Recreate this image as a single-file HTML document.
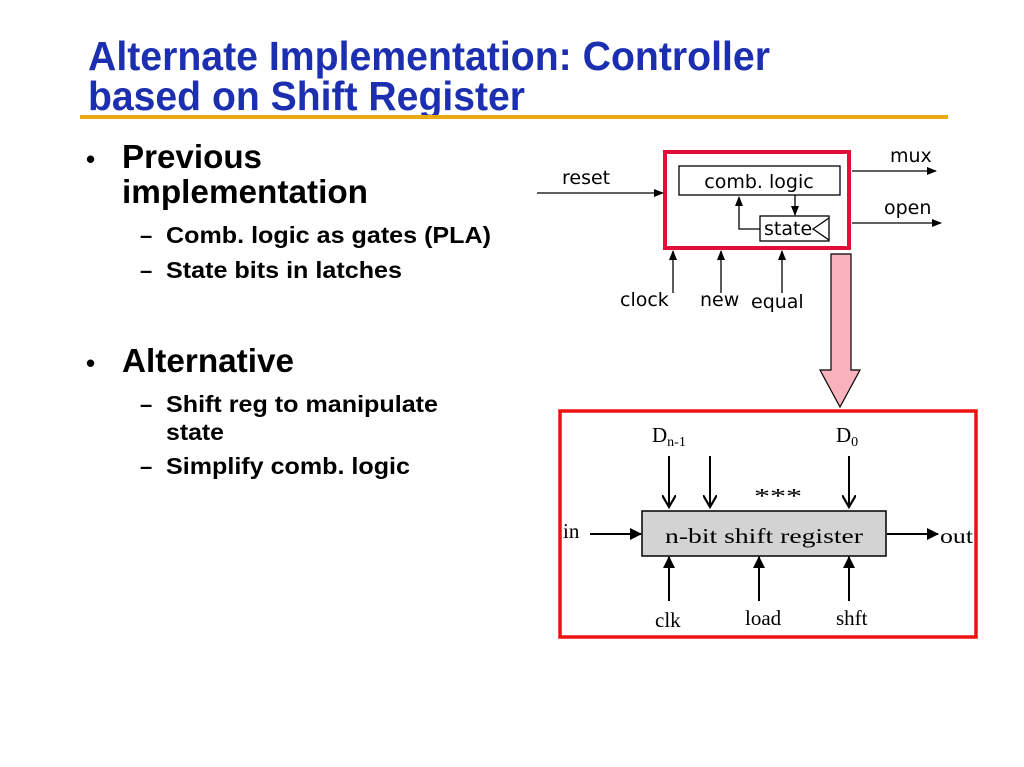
<!DOCTYPE html>
<html><head><meta charset="utf-8"><style>
html,body{margin:0;padding:0;background:#fff;width:1024px;height:767px;overflow:hidden}
svg{display:block}
.t{font-family:"Liberation Sans",sans-serif;font-weight:bold;fill:#1b2fb0;font-size:41px}
.b{font-family:"Liberation Sans",sans-serif;font-weight:bold;fill:#000}
.c{font-family:"DejaVu Sans",sans-serif;font-size:19px;fill:#000}
.s{font-family:"Liberation Serif",serif;fill:#000;font-size:21px}
</style></head><body>
<svg width="1024" height="767" viewBox="0 0 1024 767">
<defs>
<marker id="a" markerWidth="10" markerHeight="8" refX="9" refY="4" orient="auto" markerUnits="userSpaceOnUse"><path d="M0,0 L10,4 L0,8 z" fill="#000"/></marker>
<marker id="o" markerWidth="14" markerHeight="14" refX="12" refY="7" orient="auto" markerUnits="userSpaceOnUse"><path d="M0,0 L12,7 L0,14" fill="none" stroke="#000" stroke-width="2.2"/></marker>
<marker id="f" markerWidth="12" markerHeight="12" refX="11" refY="6" orient="auto" markerUnits="userSpaceOnUse"><path d="M0,0 L12,6 L0,12 z" fill="#000"/></marker>
</defs>
<text class="t" x="88" y="70" textLength="682" lengthAdjust="spacingAndGlyphs">Alternate Implementation: Controller</text>
<text class="t" x="88" y="110" textLength="437" lengthAdjust="spacingAndGlyphs">based on Shift Register</text>
<rect x="80" y="115" width="868" height="4" fill="#e8aa10"/>

<g class="b">
<text x="86" y="168" font-size="26">•</text>
<text x="122" y="168" font-size="33" textLength="140" lengthAdjust="spacingAndGlyphs">Previous</text>
<text x="122" y="203" font-size="33" textLength="246" lengthAdjust="spacingAndGlyphs">implementation</text>
<text x="140" y="243" font-size="22">–</text>
<text x="166" y="243" font-size="23" textLength="325" lengthAdjust="spacingAndGlyphs">Comb. logic as gates (PLA)</text>
<text x="140" y="278" font-size="22">–</text>
<text x="166" y="278" font-size="23" textLength="236" lengthAdjust="spacingAndGlyphs">State bits in latches</text>
<text x="86" y="372" font-size="26">•</text>
<text x="122" y="372" font-size="33" textLength="172" lengthAdjust="spacingAndGlyphs">Alternative</text>
<text x="140" y="412" font-size="22">–</text>
<text x="166" y="412" font-size="23" textLength="272" lengthAdjust="spacingAndGlyphs">Shift reg to manipulate</text>
<text x="166" y="440" font-size="23" textLength="58" lengthAdjust="spacingAndGlyphs">state</text>
<text x="140" y="474" font-size="22">–</text>
<text x="166" y="474" font-size="23" textLength="244" lengthAdjust="spacingAndGlyphs">Simplify comb. logic</text>
</g>

<!-- top diagram -->
<rect x="665" y="152" width="184" height="96" fill="none" stroke="#e0103a" stroke-width="4"/>
<rect x="679" y="166" width="161" height="29" fill="none" stroke="#000" stroke-width="1.3"/>
<text class="c" x="759" y="188" text-anchor="middle">comb. logic</text>
<rect x="760" y="216" width="69" height="25" fill="none" stroke="#000" stroke-width="1.3"/>
<text class="c" x="764" y="235">state</text>
<path d="M829,218 L813,229 L829,240" fill="none" stroke="#000" stroke-width="1.3"/>
<line x1="795" y1="195" x2="795" y2="215" stroke="#000" stroke-width="1.3" marker-end="url(#a)"/>
<path d="M760,229 H739 V197" fill="none" stroke="#000" stroke-width="1.3" marker-end="url(#a)"/>
<line x1="537" y1="193" x2="663" y2="193" stroke="#000" stroke-width="1.3" marker-end="url(#a)"/>
<text class="c" x="562" y="184">reset</text>
<line x1="852" y1="171" x2="936" y2="171" stroke="#000" stroke-width="1.3" marker-end="url(#a)"/>
<text class="c" x="890" y="162">mux</text>
<line x1="852" y1="223" x2="941" y2="223" stroke="#000" stroke-width="1.3" marker-end="url(#a)"/>
<text class="c" x="884" y="214">open</text>
<line x1="673" y1="293" x2="673" y2="251" stroke="#000" stroke-width="1.3" marker-end="url(#a)"/>
<line x1="721" y1="293" x2="721" y2="251" stroke="#000" stroke-width="1.3" marker-end="url(#a)"/>
<line x1="782" y1="293" x2="782" y2="251" stroke="#000" stroke-width="1.3" marker-end="url(#a)"/>
<text class="c" x="620" y="306">clock</text>
<text class="c" x="700" y="306">new</text>
<text class="c" x="751" y="308">equal</text>

<!-- pink arrow -->
<path d="M831,254 H851 V370 H860 L840,407 L820,370 H831 Z" fill="#f9b3bf" stroke="#000" stroke-width="1.2"/>

<!-- bottom diagram -->
<rect x="560" y="411" width="416" height="226" fill="none" stroke="#ee1111" stroke-width="3.5"/>
<rect x="642" y="511" width="244" height="45" fill="#d3d3d3" stroke="#000" stroke-width="1.5"/>
<text class="s" x="665" y="543" font-size="29" textLength="198" lengthAdjust="spacingAndGlyphs">n-bit shift register</text>
<text class="s" x="563" y="538" font-size="22">in</text>
<line x1="590" y1="534" x2="641" y2="534" stroke="#000" stroke-width="2" marker-end="url(#f)"/>
<line x1="887" y1="534" x2="938" y2="534" stroke="#000" stroke-width="2" marker-end="url(#f)"/>
<text class="s" x="940" y="543" font-size="22" textLength="33" lengthAdjust="spacingAndGlyphs">out</text>
<text class="s" x="652" y="442">D<tspan font-size="14" dy="4">n-1</tspan></text>
<text class="s" x="836" y="442">D<tspan font-size="14" dy="4">0</tspan></text>
<text class="s" x="754" y="503" font-size="40" textLength="48" lengthAdjust="spacingAndGlyphs">***</text>
<line x1="669" y1="456" x2="669" y2="507" stroke="#000" stroke-width="2" marker-end="url(#o)"/>
<line x1="710" y1="456" x2="710" y2="507" stroke="#000" stroke-width="2" marker-end="url(#o)"/>
<line x1="849" y1="456" x2="849" y2="507" stroke="#000" stroke-width="2" marker-end="url(#o)"/>
<line x1="669" y1="601" x2="669" y2="557" stroke="#000" stroke-width="2" marker-end="url(#f)"/>
<line x1="759" y1="601" x2="759" y2="557" stroke="#000" stroke-width="2" marker-end="url(#f)"/>
<line x1="849" y1="601" x2="849" y2="557" stroke="#000" stroke-width="2" marker-end="url(#f)"/>
<text class="s" x="655" y="627">clk</text>
<text class="s" x="745" y="625">load</text>
<text class="s" x="836" y="625">shft</text>
</svg>
</body></html>
